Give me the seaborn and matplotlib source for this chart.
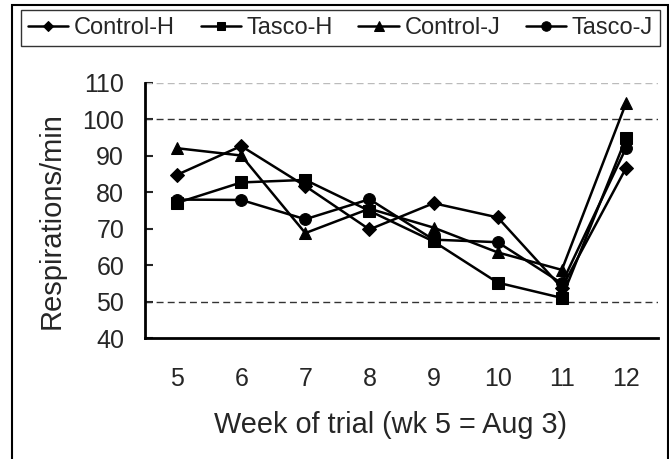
import matplotlib
matplotlib.use("Agg")
import matplotlib.pyplot as plt
import matplotlib.patches as mpatches
import seaborn as sns
import pandas as pd

weeks = [5, 6, 7, 8, 9, 10, 11, 12]
control_h = [84.8, 92.7, 81.7, 69.8, 77.0, 73.1, 53.8, 86.6]
tasco_h = [77.1, 82.7, 83.4, 74.9, 66.5, 55.2, 51.0, 94.8]
control_j = [92.1, 90.1, 68.8, 75.5, 70.3, 63.5, 58.7, 104.4]
tasco_j = [78.0, 77.9, 72.6, 78.1, 67.0, 66.3, 55.0, 92.1]
series_names = ["Control-H", "Tasco-H", "Control-J", "Tasco-J"]
yticks = [40, 50, 60, 70, 80, 90, 100, 110]

rows = []
for name, vals in zip(series_names, [control_h, tasco_h, control_j, tasco_j]):
    for w, v in zip(weeks, vals):
        rows.append({"week": w, "value": v, "series": name})
df = pd.DataFrame(rows)

sns.set_style("white")
plt.rcParams["font.family"] = ["Liberation Sans", "DejaVu Sans"]

fig = plt.figure(figsize=(6.69, 4.59), dpi=100)
ax = fig.add_axes([145 / 669, 1 - 338 / 459, (658 - 145) / 669, (338 - 83) / 459])

markers = {"Control-H": "D", "Tasco-H": "s", "Control-J": "^", "Tasco-J": "o"}
sizes_ms = {"Control-H": 7, "Tasco-H": 8, "Control-J": 9, "Tasco-J": 8.5}

for name in series_names:
    sub = df[df["series"] == name]
    sns.lineplot(data=sub, x="week", y="value", ax=ax, color="black",
                 marker=markers[name], markersize=sizes_ms[name],
                 markeredgecolor="black", markerfacecolor="black",
                 linewidth=1.8, label=name, legend=False, zorder=3)

# gridlines
ax.axhline(110, color="#bbbbbb", lw=1.0, ls=(0, (5, 3)), zorder=1)
for g in (100, 50):
    ax.axhline(g, color="#333333", lw=1.0, ls=(0, (5, 3)), zorder=1)

ax.set_xlim(4.5, 12.5)
ax.set_ylim(40, 110)
ax.set_xticks(weeks)
ax.set_xticklabels([str(w) for w in weeks])
ax.set_yticks(yticks)
ax.set_yticklabels([str(t) for t in yticks])
ax.tick_params(axis="x", length=0, pad=21, labelsize=18)
ax.tick_params(axis="y", direction="in", length=6, width=1.5, pad=15, labelsize=18, left=True)

for s in ("top", "right"):
    ax.spines[s].set_visible(False)
for s in ("left", "bottom"):
    ax.spines[s].set_color("black")
    ax.spines[s].set_linewidth(2.0)

ax.set_xlabel("Week of trial (wk 5 = Aug 3)", fontsize=20.8, labelpad=14)
ax.set_ylabel("Respirations/min", fontsize=21, labelpad=12)
ax.xaxis.label.set_x((391 - 145) / 513)
ax.yaxis.label.set_y(0.46)

handles, labels = ax.get_legend_handles_labels()
leg = fig.legend(handles, labels, ncol=4, loc="center",
                 bbox_to_anchor=(21 / 669, 1 - 47 / 459, (660 - 21) / 669, 38 / 459),
                 mode="expand", frameon=True, fontsize=17, handlelength=1.7,
                 handletextpad=0.25, borderpad=0.3, columnspacing=0.6,
                 markerscale=0.8, fancybox=False, borderaxespad=0)
leg.get_frame().set_edgecolor("black")
leg.get_frame().set_linewidth(1.0)

# outer frame
rect = mpatches.Rectangle((12 / 669, -0.05), (668 - 12) / 669, 1 - 5 / 459 + 0.05,
                          transform=fig.transFigure, fill=False,
                          edgecolor="black", linewidth=1.5, zorder=0)
fig.patches.append(rect)

fig.savefig("out.png", dpi=100)
